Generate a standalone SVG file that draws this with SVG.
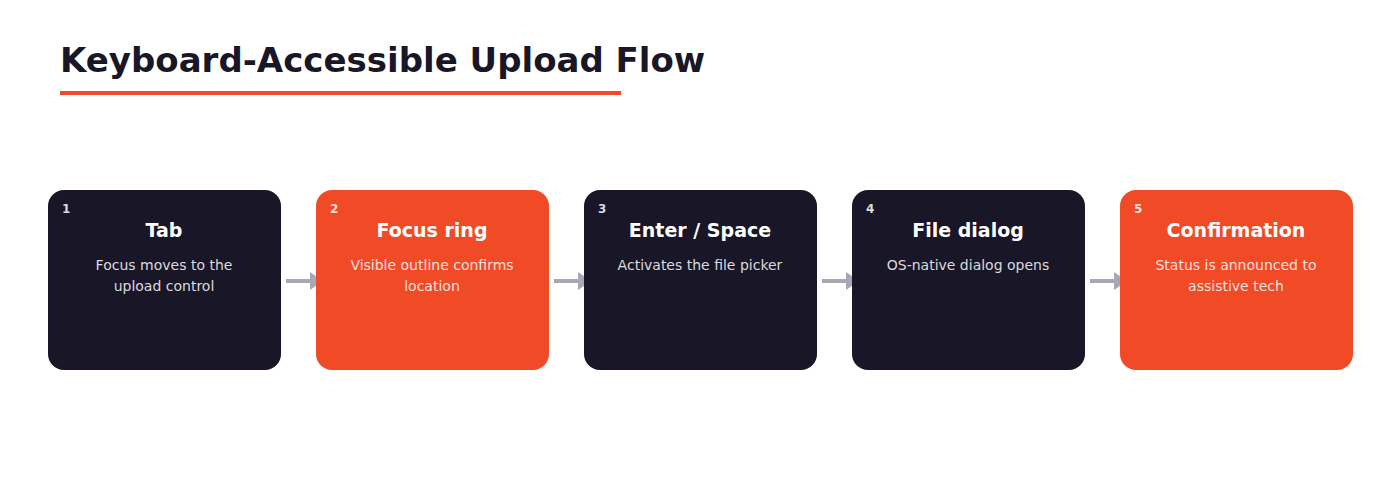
<svg xmlns="http://www.w3.org/2000/svg" width="1400" height="480" viewBox="0 0 1400 480">
<defs>
<style>
text{font-family:"DejaVu Sans",sans-serif}
.dark{fill:#191627}.acc{fill:#f04b26}
.num{font-size:12px;font-weight:bold;fill:#ffffff;fill-opacity:.85}
.ttl{font-size:19px;font-weight:bold;fill:#ffffff;text-anchor:middle}
.desc{font-size:14px;fill:#ffffff;fill-opacity:.85;text-anchor:middle}
.con{stroke:#a9a7b6;stroke-width:4}
</style>
<marker id="ah" markerWidth="4" markerHeight="5" refX="0" refY="2.5" orient="auto" markerUnits="userSpaceOnUse" viewBox="0 0 4 5"><path d="M0,0L4,2.5L0,5z" fill="#a9a7b6"/></marker>
</defs>
<rect width="1400" height="480" fill="#ffffff"/>
<text x="60" y="72" font-size="34" font-weight="bold" fill="#191627">Keyboard-Accessible Upload Flow</text>
<rect x="60" y="91" width="561" height="4" fill="#f04b26"/>
<g id="connectors">
<line class="con" x1="286" y1="281" x2="312" y2="281"/><path d="M310,272L323,281L310,290z" fill="#a9a7b6"/>
<line class="con" x1="554" y1="281" x2="580" y2="281"/><path d="M578,272L591,281L578,290z" fill="#a9a7b6"/>
<line class="con" x1="822" y1="281" x2="848" y2="281"/><path d="M846,272L859,281L846,290z" fill="#a9a7b6"/>
<line class="con" x1="1090" y1="281" x2="1116" y2="281"/><path d="M1114,272L1127,281L1114,290z" fill="#a9a7b6"/>
</g>
<g id="n1"><rect class="dark" x="48" y="190" width="233" height="180" rx="16"/><text class="num" x="62" y="213">1</text><text class="ttl" x="164" y="237">Tab</text><text class="desc" x="164" y="270">Focus moves to the</text><text class="desc" x="164" y="291">upload control</text></g>
<g id="n2"><rect class="acc" x="316" y="190" width="233" height="180" rx="16"/><text class="num" x="330" y="213">2</text><text class="ttl" x="432" y="237">Focus ring</text><text class="desc" x="432" y="270">Visible outline confirms</text><text class="desc" x="432" y="291">location</text></g>
<g id="n3"><rect class="dark" x="584" y="190" width="233" height="180" rx="16"/><text class="num" x="598" y="213">3</text><text class="ttl" x="700" y="237">Enter / Space</text><text class="desc" x="700" y="270">Activates the file picker</text></g>
<g id="n4"><rect class="dark" x="852" y="190" width="233" height="180" rx="16"/><text class="num" x="866" y="213">4</text><text class="ttl" x="968" y="237">File dialog</text><text class="desc" x="968" y="270">OS-native dialog opens</text></g>
<g id="n5"><rect class="acc" x="1120" y="190" width="233" height="180" rx="16"/><text class="num" x="1134" y="213">5</text><text class="ttl" x="1236" y="237">Confirmation</text><text class="desc" x="1236" y="270">Status is announced to</text><text class="desc" x="1236" y="291">assistive tech</text></g>
</svg>
